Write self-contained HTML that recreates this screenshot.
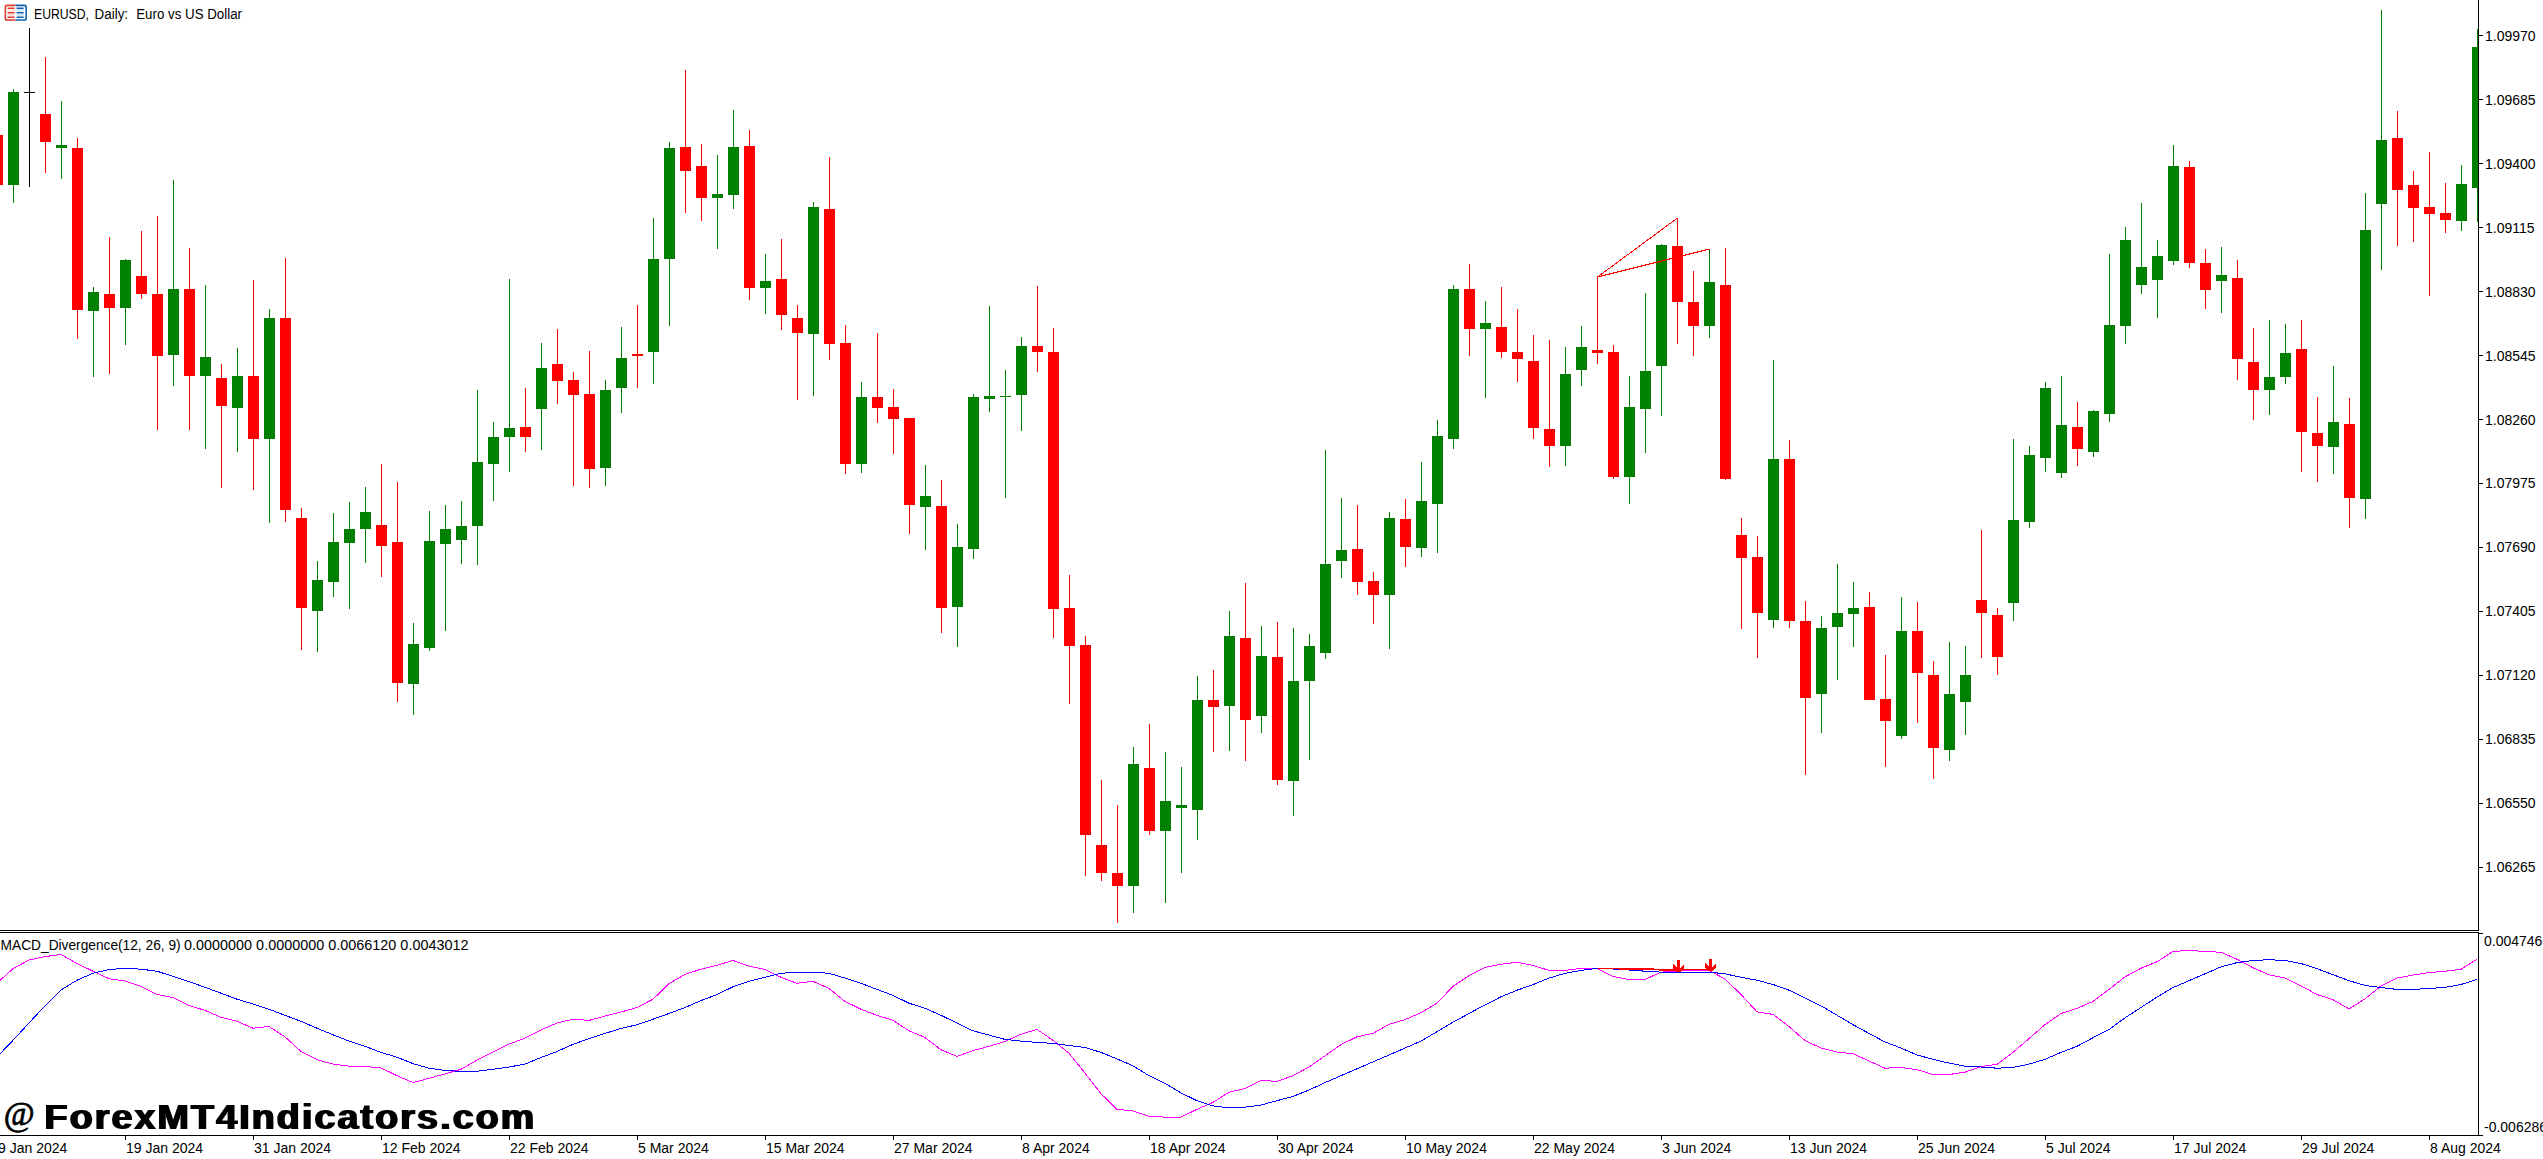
<!DOCTYPE html>
<html><head><meta charset="utf-8"><title>EURUSD Daily</title><style>
html,body{margin:0;padding:0;background:#fff;}
body{width:2543px;height:1159px;overflow:hidden;position:relative;}
svg{display:block;position:absolute;left:0;top:0;}
text{font-family:"Liberation Sans",sans-serif;}
.ax{font-size:14px;fill:#000;}
.wm{font-family:"Liberation Sans",sans-serif;font-weight:bold;font-size:35.5px;fill:#000;}
</style></head><body>
<svg width="2543" height="1159" viewBox="0 0 2543 1159">
<defs><clipPath id="cm"><rect x="0" y="0" width="2478" height="930"/></clipPath>
<clipPath id="cs"><rect x="0" y="933" width="2478" height="202"/></clipPath></defs>
<rect width="2543" height="1159" fill="#fff"/>
<g clip-path="url(#cm)" shape-rendering="crispEdges">
<rect x="-8" y="135" width="11" height="50" fill="#ff0000"/>
<rect x="13" y="89" width="1" height="114" fill="#008000"/>
<rect x="8" y="92" width="11" height="93" fill="#008000"/>
<rect x="29" y="28" width="1" height="159" fill="#000000"/>
<rect x="24" y="92" width="11" height="1" fill="#000000"/>
<rect x="45" y="57" width="1" height="116" fill="#ff0000"/>
<rect x="40" y="114" width="11" height="28" fill="#ff0000"/>
<rect x="61" y="101" width="1" height="78" fill="#008000"/>
<rect x="56" y="145" width="11" height="3" fill="#008000"/>
<rect x="77" y="138" width="1" height="201" fill="#ff0000"/>
<rect x="72" y="148" width="11" height="162" fill="#ff0000"/>
<rect x="93" y="287" width="1" height="90" fill="#008000"/>
<rect x="88" y="292" width="11" height="19" fill="#008000"/>
<rect x="109" y="237" width="1" height="137" fill="#ff0000"/>
<rect x="104" y="294" width="11" height="14" fill="#ff0000"/>
<rect x="125" y="259" width="1" height="86" fill="#008000"/>
<rect x="120" y="260" width="11" height="48" fill="#008000"/>
<rect x="141" y="231" width="1" height="68" fill="#ff0000"/>
<rect x="136" y="276" width="11" height="18" fill="#ff0000"/>
<rect x="157" y="216" width="1" height="214" fill="#ff0000"/>
<rect x="152" y="294" width="11" height="62" fill="#ff0000"/>
<rect x="173" y="180" width="1" height="206" fill="#008000"/>
<rect x="168" y="289" width="11" height="66" fill="#008000"/>
<rect x="189" y="248" width="1" height="182" fill="#ff0000"/>
<rect x="184" y="289" width="11" height="87" fill="#ff0000"/>
<rect x="205" y="285" width="1" height="164" fill="#008000"/>
<rect x="200" y="357" width="11" height="19" fill="#008000"/>
<rect x="221" y="364" width="1" height="124" fill="#ff0000"/>
<rect x="216" y="378" width="11" height="28" fill="#ff0000"/>
<rect x="237" y="348" width="1" height="104" fill="#008000"/>
<rect x="232" y="376" width="11" height="32" fill="#008000"/>
<rect x="253" y="280" width="1" height="210" fill="#ff0000"/>
<rect x="248" y="376" width="11" height="63" fill="#ff0000"/>
<rect x="269" y="309" width="1" height="214" fill="#008000"/>
<rect x="264" y="318" width="11" height="121" fill="#008000"/>
<rect x="285" y="258" width="1" height="264" fill="#ff0000"/>
<rect x="280" y="318" width="11" height="192" fill="#ff0000"/>
<rect x="301" y="508" width="1" height="142" fill="#ff0000"/>
<rect x="296" y="518" width="11" height="90" fill="#ff0000"/>
<rect x="317" y="561" width="1" height="91" fill="#008000"/>
<rect x="312" y="580" width="11" height="31" fill="#008000"/>
<rect x="333" y="513" width="1" height="84" fill="#008000"/>
<rect x="328" y="542" width="11" height="40" fill="#008000"/>
<rect x="349" y="502" width="1" height="107" fill="#008000"/>
<rect x="344" y="529" width="11" height="14" fill="#008000"/>
<rect x="365" y="487" width="1" height="76" fill="#008000"/>
<rect x="360" y="512" width="11" height="17" fill="#008000"/>
<rect x="381" y="464" width="1" height="113" fill="#ff0000"/>
<rect x="376" y="525" width="11" height="21" fill="#ff0000"/>
<rect x="397" y="482" width="1" height="220" fill="#ff0000"/>
<rect x="392" y="542" width="11" height="141" fill="#ff0000"/>
<rect x="413" y="623" width="1" height="92" fill="#008000"/>
<rect x="408" y="644" width="11" height="40" fill="#008000"/>
<rect x="429" y="511" width="1" height="140" fill="#008000"/>
<rect x="424" y="541" width="11" height="107" fill="#008000"/>
<rect x="445" y="505" width="1" height="126" fill="#008000"/>
<rect x="440" y="529" width="11" height="15" fill="#008000"/>
<rect x="461" y="501" width="1" height="63" fill="#008000"/>
<rect x="456" y="526" width="11" height="14" fill="#008000"/>
<rect x="477" y="390" width="1" height="175" fill="#008000"/>
<rect x="472" y="462" width="11" height="64" fill="#008000"/>
<rect x="493" y="422" width="1" height="79" fill="#008000"/>
<rect x="488" y="437" width="11" height="27" fill="#008000"/>
<rect x="509" y="279" width="1" height="193" fill="#008000"/>
<rect x="504" y="428" width="11" height="9" fill="#008000"/>
<rect x="525" y="388" width="1" height="64" fill="#ff0000"/>
<rect x="520" y="427" width="11" height="10" fill="#ff0000"/>
<rect x="541" y="343" width="1" height="107" fill="#008000"/>
<rect x="536" y="368" width="11" height="41" fill="#008000"/>
<rect x="557" y="329" width="1" height="75" fill="#ff0000"/>
<rect x="552" y="364" width="11" height="17" fill="#ff0000"/>
<rect x="573" y="372" width="1" height="114" fill="#ff0000"/>
<rect x="568" y="380" width="11" height="15" fill="#ff0000"/>
<rect x="589" y="351" width="1" height="137" fill="#ff0000"/>
<rect x="584" y="394" width="11" height="75" fill="#ff0000"/>
<rect x="605" y="380" width="1" height="106" fill="#008000"/>
<rect x="600" y="390" width="11" height="78" fill="#008000"/>
<rect x="621" y="327" width="1" height="86" fill="#008000"/>
<rect x="616" y="358" width="11" height="30" fill="#008000"/>
<rect x="637" y="305" width="1" height="83" fill="#ff0000"/>
<rect x="632" y="354" width="11" height="2" fill="#ff0000"/>
<rect x="653" y="218" width="1" height="166" fill="#008000"/>
<rect x="648" y="259" width="11" height="93" fill="#008000"/>
<rect x="669" y="142" width="1" height="184" fill="#008000"/>
<rect x="664" y="148" width="11" height="111" fill="#008000"/>
<rect x="685" y="70" width="1" height="143" fill="#ff0000"/>
<rect x="680" y="147" width="11" height="24" fill="#ff0000"/>
<rect x="701" y="144" width="1" height="77" fill="#ff0000"/>
<rect x="696" y="166" width="11" height="32" fill="#ff0000"/>
<rect x="717" y="155" width="1" height="94" fill="#008000"/>
<rect x="712" y="194" width="11" height="4" fill="#008000"/>
<rect x="733" y="110" width="1" height="99" fill="#008000"/>
<rect x="728" y="147" width="11" height="48" fill="#008000"/>
<rect x="749" y="130" width="1" height="170" fill="#ff0000"/>
<rect x="744" y="146" width="11" height="142" fill="#ff0000"/>
<rect x="765" y="254" width="1" height="60" fill="#008000"/>
<rect x="760" y="281" width="11" height="7" fill="#008000"/>
<rect x="781" y="239" width="1" height="91" fill="#ff0000"/>
<rect x="776" y="279" width="11" height="36" fill="#ff0000"/>
<rect x="797" y="305" width="1" height="95" fill="#ff0000"/>
<rect x="792" y="318" width="11" height="15" fill="#ff0000"/>
<rect x="813" y="202" width="1" height="194" fill="#008000"/>
<rect x="808" y="207" width="11" height="127" fill="#008000"/>
<rect x="829" y="157" width="1" height="203" fill="#ff0000"/>
<rect x="824" y="209" width="11" height="135" fill="#ff0000"/>
<rect x="845" y="325" width="1" height="149" fill="#ff0000"/>
<rect x="840" y="343" width="11" height="121" fill="#ff0000"/>
<rect x="861" y="382" width="1" height="91" fill="#008000"/>
<rect x="856" y="397" width="11" height="67" fill="#008000"/>
<rect x="877" y="333" width="1" height="90" fill="#ff0000"/>
<rect x="872" y="397" width="11" height="11" fill="#ff0000"/>
<rect x="893" y="389" width="1" height="65" fill="#ff0000"/>
<rect x="888" y="407" width="11" height="12" fill="#ff0000"/>
<rect x="909" y="418" width="1" height="116" fill="#ff0000"/>
<rect x="904" y="418" width="11" height="87" fill="#ff0000"/>
<rect x="925" y="465" width="1" height="85" fill="#008000"/>
<rect x="920" y="496" width="11" height="11" fill="#008000"/>
<rect x="941" y="480" width="1" height="153" fill="#ff0000"/>
<rect x="936" y="506" width="11" height="102" fill="#ff0000"/>
<rect x="957" y="524" width="1" height="123" fill="#008000"/>
<rect x="952" y="547" width="11" height="60" fill="#008000"/>
<rect x="973" y="394" width="1" height="165" fill="#008000"/>
<rect x="968" y="397" width="11" height="152" fill="#008000"/>
<rect x="989" y="306" width="1" height="106" fill="#008000"/>
<rect x="984" y="396" width="11" height="3" fill="#008000"/>
<rect x="1005" y="370" width="1" height="128" fill="#008000"/>
<rect x="1000" y="396" width="11" height="1" fill="#008000"/>
<rect x="1021" y="337" width="1" height="94" fill="#008000"/>
<rect x="1016" y="346" width="11" height="49" fill="#008000"/>
<rect x="1037" y="286" width="1" height="86" fill="#ff0000"/>
<rect x="1032" y="346" width="11" height="6" fill="#ff0000"/>
<rect x="1053" y="328" width="1" height="310" fill="#ff0000"/>
<rect x="1048" y="352" width="11" height="257" fill="#ff0000"/>
<rect x="1069" y="575" width="1" height="129" fill="#ff0000"/>
<rect x="1064" y="608" width="11" height="38" fill="#ff0000"/>
<rect x="1085" y="636" width="1" height="240" fill="#ff0000"/>
<rect x="1080" y="645" width="11" height="190" fill="#ff0000"/>
<rect x="1101" y="780" width="1" height="101" fill="#ff0000"/>
<rect x="1096" y="845" width="11" height="28" fill="#ff0000"/>
<rect x="1117" y="805" width="1" height="118" fill="#ff0000"/>
<rect x="1112" y="873" width="11" height="13" fill="#ff0000"/>
<rect x="1133" y="747" width="1" height="166" fill="#008000"/>
<rect x="1128" y="764" width="11" height="122" fill="#008000"/>
<rect x="1149" y="724" width="1" height="111" fill="#ff0000"/>
<rect x="1144" y="768" width="11" height="63" fill="#ff0000"/>
<rect x="1165" y="752" width="1" height="151" fill="#008000"/>
<rect x="1160" y="801" width="11" height="30" fill="#008000"/>
<rect x="1181" y="767" width="1" height="106" fill="#008000"/>
<rect x="1176" y="805" width="11" height="3" fill="#008000"/>
<rect x="1197" y="676" width="1" height="164" fill="#008000"/>
<rect x="1192" y="700" width="11" height="110" fill="#008000"/>
<rect x="1213" y="670" width="1" height="82" fill="#ff0000"/>
<rect x="1208" y="700" width="11" height="7" fill="#ff0000"/>
<rect x="1229" y="611" width="1" height="140" fill="#008000"/>
<rect x="1224" y="636" width="11" height="70" fill="#008000"/>
<rect x="1245" y="583" width="1" height="178" fill="#ff0000"/>
<rect x="1240" y="638" width="11" height="82" fill="#ff0000"/>
<rect x="1261" y="626" width="1" height="107" fill="#008000"/>
<rect x="1256" y="656" width="11" height="60" fill="#008000"/>
<rect x="1277" y="622" width="1" height="163" fill="#ff0000"/>
<rect x="1272" y="657" width="11" height="123" fill="#ff0000"/>
<rect x="1293" y="628" width="1" height="188" fill="#008000"/>
<rect x="1288" y="681" width="11" height="100" fill="#008000"/>
<rect x="1309" y="634" width="1" height="126" fill="#008000"/>
<rect x="1304" y="646" width="11" height="35" fill="#008000"/>
<rect x="1325" y="450" width="1" height="209" fill="#008000"/>
<rect x="1320" y="564" width="11" height="89" fill="#008000"/>
<rect x="1341" y="498" width="1" height="80" fill="#008000"/>
<rect x="1336" y="550" width="11" height="11" fill="#008000"/>
<rect x="1357" y="505" width="1" height="90" fill="#ff0000"/>
<rect x="1352" y="549" width="11" height="33" fill="#ff0000"/>
<rect x="1373" y="572" width="1" height="52" fill="#ff0000"/>
<rect x="1368" y="581" width="11" height="14" fill="#ff0000"/>
<rect x="1389" y="512" width="1" height="137" fill="#008000"/>
<rect x="1384" y="518" width="11" height="77" fill="#008000"/>
<rect x="1405" y="499" width="1" height="68" fill="#ff0000"/>
<rect x="1400" y="519" width="11" height="28" fill="#ff0000"/>
<rect x="1421" y="462" width="1" height="95" fill="#008000"/>
<rect x="1416" y="501" width="11" height="47" fill="#008000"/>
<rect x="1437" y="420" width="1" height="133" fill="#008000"/>
<rect x="1432" y="436" width="11" height="68" fill="#008000"/>
<rect x="1453" y="285" width="1" height="164" fill="#008000"/>
<rect x="1448" y="289" width="11" height="150" fill="#008000"/>
<rect x="1469" y="264" width="1" height="92" fill="#ff0000"/>
<rect x="1464" y="289" width="11" height="40" fill="#ff0000"/>
<rect x="1485" y="301" width="1" height="97" fill="#008000"/>
<rect x="1480" y="323" width="11" height="6" fill="#008000"/>
<rect x="1501" y="287" width="1" height="71" fill="#ff0000"/>
<rect x="1496" y="327" width="11" height="25" fill="#ff0000"/>
<rect x="1517" y="309" width="1" height="73" fill="#ff0000"/>
<rect x="1512" y="352" width="11" height="7" fill="#ff0000"/>
<rect x="1533" y="335" width="1" height="104" fill="#ff0000"/>
<rect x="1528" y="361" width="11" height="67" fill="#ff0000"/>
<rect x="1549" y="340" width="1" height="127" fill="#ff0000"/>
<rect x="1544" y="429" width="11" height="17" fill="#ff0000"/>
<rect x="1565" y="347" width="1" height="119" fill="#008000"/>
<rect x="1560" y="374" width="11" height="72" fill="#008000"/>
<rect x="1581" y="326" width="1" height="60" fill="#008000"/>
<rect x="1576" y="347" width="11" height="23" fill="#008000"/>
<rect x="1597" y="277" width="1" height="87" fill="#ff0000"/>
<rect x="1592" y="350" width="11" height="3" fill="#ff0000"/>
<rect x="1613" y="345" width="1" height="134" fill="#ff0000"/>
<rect x="1608" y="352" width="11" height="125" fill="#ff0000"/>
<rect x="1629" y="376" width="1" height="128" fill="#008000"/>
<rect x="1624" y="407" width="11" height="70" fill="#008000"/>
<rect x="1645" y="293" width="1" height="160" fill="#008000"/>
<rect x="1640" y="371" width="11" height="38" fill="#008000"/>
<rect x="1661" y="244" width="1" height="172" fill="#008000"/>
<rect x="1656" y="245" width="11" height="121" fill="#008000"/>
<rect x="1677" y="218" width="1" height="126" fill="#ff0000"/>
<rect x="1672" y="246" width="11" height="56" fill="#ff0000"/>
<rect x="1693" y="271" width="1" height="85" fill="#ff0000"/>
<rect x="1688" y="302" width="11" height="24" fill="#ff0000"/>
<rect x="1709" y="249" width="1" height="89" fill="#008000"/>
<rect x="1704" y="282" width="11" height="44" fill="#008000"/>
<rect x="1725" y="248" width="1" height="232" fill="#ff0000"/>
<rect x="1720" y="285" width="11" height="194" fill="#ff0000"/>
<rect x="1741" y="518" width="1" height="111" fill="#ff0000"/>
<rect x="1736" y="535" width="11" height="23" fill="#ff0000"/>
<rect x="1757" y="536" width="1" height="122" fill="#ff0000"/>
<rect x="1752" y="557" width="11" height="56" fill="#ff0000"/>
<rect x="1773" y="360" width="1" height="268" fill="#008000"/>
<rect x="1768" y="459" width="11" height="161" fill="#008000"/>
<rect x="1789" y="440" width="1" height="188" fill="#ff0000"/>
<rect x="1784" y="459" width="11" height="162" fill="#ff0000"/>
<rect x="1805" y="601" width="1" height="174" fill="#ff0000"/>
<rect x="1800" y="621" width="11" height="77" fill="#ff0000"/>
<rect x="1821" y="616" width="1" height="117" fill="#008000"/>
<rect x="1816" y="628" width="11" height="66" fill="#008000"/>
<rect x="1837" y="564" width="1" height="116" fill="#008000"/>
<rect x="1832" y="613" width="11" height="14" fill="#008000"/>
<rect x="1853" y="582" width="1" height="65" fill="#008000"/>
<rect x="1848" y="608" width="11" height="6" fill="#008000"/>
<rect x="1869" y="592" width="1" height="108" fill="#ff0000"/>
<rect x="1864" y="607" width="11" height="93" fill="#ff0000"/>
<rect x="1885" y="655" width="1" height="112" fill="#ff0000"/>
<rect x="1880" y="699" width="11" height="22" fill="#ff0000"/>
<rect x="1901" y="597" width="1" height="142" fill="#008000"/>
<rect x="1896" y="631" width="11" height="105" fill="#008000"/>
<rect x="1917" y="602" width="1" height="121" fill="#ff0000"/>
<rect x="1912" y="631" width="11" height="42" fill="#ff0000"/>
<rect x="1933" y="661" width="1" height="118" fill="#ff0000"/>
<rect x="1928" y="675" width="11" height="73" fill="#ff0000"/>
<rect x="1949" y="642" width="1" height="119" fill="#008000"/>
<rect x="1944" y="694" width="11" height="56" fill="#008000"/>
<rect x="1965" y="646" width="1" height="89" fill="#008000"/>
<rect x="1960" y="675" width="11" height="27" fill="#008000"/>
<rect x="1981" y="530" width="1" height="128" fill="#ff0000"/>
<rect x="1976" y="600" width="11" height="13" fill="#ff0000"/>
<rect x="1997" y="608" width="1" height="67" fill="#ff0000"/>
<rect x="1992" y="615" width="11" height="42" fill="#ff0000"/>
<rect x="2013" y="439" width="1" height="182" fill="#008000"/>
<rect x="2008" y="520" width="11" height="83" fill="#008000"/>
<rect x="2029" y="446" width="1" height="82" fill="#008000"/>
<rect x="2024" y="455" width="11" height="67" fill="#008000"/>
<rect x="2045" y="382" width="1" height="90" fill="#008000"/>
<rect x="2040" y="388" width="11" height="70" fill="#008000"/>
<rect x="2061" y="376" width="1" height="102" fill="#008000"/>
<rect x="2056" y="425" width="11" height="48" fill="#008000"/>
<rect x="2077" y="402" width="1" height="64" fill="#ff0000"/>
<rect x="2072" y="427" width="11" height="22" fill="#ff0000"/>
<rect x="2093" y="410" width="1" height="47" fill="#008000"/>
<rect x="2088" y="411" width="11" height="41" fill="#008000"/>
<rect x="2109" y="254" width="1" height="168" fill="#008000"/>
<rect x="2104" y="325" width="11" height="89" fill="#008000"/>
<rect x="2125" y="227" width="1" height="117" fill="#008000"/>
<rect x="2120" y="240" width="11" height="86" fill="#008000"/>
<rect x="2141" y="203" width="1" height="91" fill="#008000"/>
<rect x="2136" y="267" width="11" height="18" fill="#008000"/>
<rect x="2157" y="240" width="1" height="78" fill="#008000"/>
<rect x="2152" y="256" width="11" height="24" fill="#008000"/>
<rect x="2173" y="145" width="1" height="120" fill="#008000"/>
<rect x="2168" y="166" width="11" height="95" fill="#008000"/>
<rect x="2189" y="161" width="1" height="107" fill="#ff0000"/>
<rect x="2184" y="167" width="11" height="96" fill="#ff0000"/>
<rect x="2205" y="249" width="1" height="60" fill="#ff0000"/>
<rect x="2200" y="263" width="11" height="27" fill="#ff0000"/>
<rect x="2221" y="247" width="1" height="66" fill="#008000"/>
<rect x="2216" y="275" width="11" height="6" fill="#008000"/>
<rect x="2237" y="260" width="1" height="120" fill="#ff0000"/>
<rect x="2232" y="278" width="11" height="81" fill="#ff0000"/>
<rect x="2253" y="328" width="1" height="92" fill="#ff0000"/>
<rect x="2248" y="362" width="11" height="28" fill="#ff0000"/>
<rect x="2269" y="320" width="1" height="95" fill="#008000"/>
<rect x="2264" y="377" width="11" height="13" fill="#008000"/>
<rect x="2285" y="324" width="1" height="60" fill="#008000"/>
<rect x="2280" y="353" width="11" height="24" fill="#008000"/>
<rect x="2301" y="320" width="1" height="152" fill="#ff0000"/>
<rect x="2296" y="349" width="11" height="83" fill="#ff0000"/>
<rect x="2317" y="397" width="1" height="85" fill="#ff0000"/>
<rect x="2312" y="433" width="11" height="13" fill="#ff0000"/>
<rect x="2333" y="366" width="1" height="108" fill="#008000"/>
<rect x="2328" y="422" width="11" height="25" fill="#008000"/>
<rect x="2349" y="398" width="1" height="130" fill="#ff0000"/>
<rect x="2344" y="424" width="11" height="74" fill="#ff0000"/>
<rect x="2365" y="193" width="1" height="326" fill="#008000"/>
<rect x="2360" y="230" width="11" height="269" fill="#008000"/>
<rect x="2381" y="10" width="1" height="260" fill="#008000"/>
<rect x="2376" y="140" width="11" height="64" fill="#008000"/>
<rect x="2397" y="111" width="1" height="135" fill="#ff0000"/>
<rect x="2392" y="138" width="11" height="52" fill="#ff0000"/>
<rect x="2413" y="171" width="1" height="71" fill="#ff0000"/>
<rect x="2408" y="185" width="11" height="23" fill="#ff0000"/>
<rect x="2429" y="152" width="1" height="144" fill="#ff0000"/>
<rect x="2424" y="207" width="11" height="7" fill="#ff0000"/>
<rect x="2445" y="183" width="1" height="50" fill="#ff0000"/>
<rect x="2440" y="213" width="11" height="7" fill="#ff0000"/>
<rect x="2461" y="165" width="1" height="66" fill="#008000"/>
<rect x="2456" y="184" width="11" height="37" fill="#008000"/>
<rect x="2477" y="29" width="1" height="193" fill="#008000"/>
<rect x="2472" y="47" width="11" height="141" fill="#008000"/>
</g>
<g stroke="#ff0000" stroke-width="1" fill="none" shape-rendering="crispEdges">
<line x1="1597.5" y1="277" x2="1677.5" y2="218"/>
<line x1="1597.5" y1="277" x2="1709.5" y2="249"/>
</g>
<g shape-rendering="crispEdges" fill="#000">
<rect x="0" y="930" width="2479" height="1"/>
<rect x="2478" y="0" width="1" height="931"/>
<rect x="0" y="932" width="2479" height="1"/>
<rect x="2478" y="932" width="1" height="204"/>
<rect x="0" y="1135" width="2479" height="1"/>
<rect x="2479" y="35" width="4" height="1"/>
<rect x="2479" y="99" width="4" height="1"/>
<rect x="2479" y="163" width="4" height="1"/>
<rect x="2479" y="227" width="4" height="1"/>
<rect x="2479" y="291" width="4" height="1"/>
<rect x="2479" y="355" width="4" height="1"/>
<rect x="2479" y="419" width="4" height="1"/>
<rect x="2479" y="483" width="4" height="1"/>
<rect x="2479" y="547" width="4" height="1"/>
<rect x="2479" y="611" width="4" height="1"/>
<rect x="2479" y="675" width="4" height="1"/>
<rect x="2479" y="739" width="4" height="1"/>
<rect x="2479" y="803" width="4" height="1"/>
<rect x="2479" y="867" width="4" height="1"/>
<rect x="2479" y="933" width="4" height="1"/>
<rect x="2479" y="1135" width="4" height="1"/>
<rect x="-3" y="1136" width="1" height="4"/>
<rect x="125" y="1136" width="1" height="4"/>
<rect x="253" y="1136" width="1" height="4"/>
<rect x="381" y="1136" width="1" height="4"/>
<rect x="509" y="1136" width="1" height="4"/>
<rect x="637" y="1136" width="1" height="4"/>
<rect x="765" y="1136" width="1" height="4"/>
<rect x="893" y="1136" width="1" height="4"/>
<rect x="1021" y="1136" width="1" height="4"/>
<rect x="1149" y="1136" width="1" height="4"/>
<rect x="1277" y="1136" width="1" height="4"/>
<rect x="1405" y="1136" width="1" height="4"/>
<rect x="1533" y="1136" width="1" height="4"/>
<rect x="1661" y="1136" width="1" height="4"/>
<rect x="1789" y="1136" width="1" height="4"/>
<rect x="1917" y="1136" width="1" height="4"/>
<rect x="2045" y="1136" width="1" height="4"/>
<rect x="2173" y="1136" width="1" height="4"/>
<rect x="2301" y="1136" width="1" height="4"/>
<rect x="2429" y="1136" width="1" height="4"/>
</g>
<g class="ax">
<text x="2485" y="40.8">1.09970</text>
<text x="2485" y="104.8">1.09685</text>
<text x="2485" y="168.7">1.09400</text>
<text x="2485" y="232.7">1.09115</text>
<text x="2485" y="296.6">1.08830</text>
<text x="2485" y="360.5">1.08545</text>
<text x="2485" y="424.5">1.08260</text>
<text x="2485" y="488.4">1.07975</text>
<text x="2485" y="552.4">1.07690</text>
<text x="2485" y="616.4">1.07405</text>
<text x="2485" y="680.3">1.07120</text>
<text x="2485" y="744.2">1.06835</text>
<text x="2485" y="808.2">1.06550</text>
<text x="2485" y="872.1">1.06265</text>
<text x="2484" y="946">0.004746</text>
<text x="2484" y="1131.5">-0.006286</text>
<text x="-2" y="1153">9 Jan 2024</text>
<text x="126" y="1153">19 Jan 2024</text>
<text x="254" y="1153">31 Jan 2024</text>
<text x="382" y="1153">12 Feb 2024</text>
<text x="510" y="1153">22 Feb 2024</text>
<text x="638" y="1153">5 Mar 2024</text>
<text x="766" y="1153">15 Mar 2024</text>
<text x="894" y="1153">27 Mar 2024</text>
<text x="1022" y="1153">8 Apr 2024</text>
<text x="1150" y="1153">18 Apr 2024</text>
<text x="1278" y="1153">30 Apr 2024</text>
<text x="1406" y="1153">10 May 2024</text>
<text x="1534" y="1153">22 May 2024</text>
<text x="1662" y="1153">3 Jun 2024</text>
<text x="1790" y="1153">13 Jun 2024</text>
<text x="1918" y="1153">25 Jun 2024</text>
<text x="2046" y="1153">5 Jul 2024</text>
<text x="2174" y="1153">17 Jul 2024</text>
<text x="2302" y="1153">29 Jul 2024</text>
<text x="2430" y="1153">8 Aug 2024</text>
<text x="34" y="18.9" textLength="55" lengthAdjust="spacingAndGlyphs">EURUSD,</text>
<text x="94.6" y="18.9" textLength="33.5" lengthAdjust="spacingAndGlyphs">Daily:</text>
<text x="136.2" y="18.9" textLength="105.8" lengthAdjust="spacingAndGlyphs">Euro vs US Dollar</text>
<text x="0.6" y="949.7" textLength="180" lengthAdjust="spacingAndGlyphs">MACD_Divergence(12, 26, 9)</text>
<text x="184" y="949.7" textLength="284.5" lengthAdjust="spacingAndGlyphs">0.0000000 0.0000000 0.0066120 0.0043012</text>
</g>
<defs><clipPath id="il"><rect x="0" y="0" width="15.6" height="30"/></clipPath><clipPath id="ir"><rect x="15.6" y="0" width="20" height="30"/></clipPath></defs>
<g>
<rect x="5.35" y="5.35" width="20.8" height="14.6" rx="1.8" fill="#fff" stroke="#dc3a2f" stroke-width="1.6" clip-path="url(#il)"/>
<rect x="5.35" y="5.35" width="20.8" height="14.6" rx="1.8" fill="#fff" stroke="#0d60ad" stroke-width="1.6" clip-path="url(#ir)"/>
<rect x="7.4" y="9.3" width="7.4" height="2.1" fill="#fde2da"/>
<rect x="7.4" y="14" width="7.4" height="2.1" fill="#fde2da"/>
<rect x="16.4" y="9.3" width="7.5" height="2.1" fill="#cce8fb"/>
<rect x="16.4" y="14" width="7.5" height="2.1" fill="#cce8fb"/>
<rect x="7.4" y="7.55" width="7.4" height="1.45" rx="0.7" fill="#dc3a2f"/>
<rect x="16.4" y="7.55" width="7.5" height="1.45" rx="0.7" fill="#0d60ad"/>
<rect x="7.4" y="12.05" width="7.4" height="1.45" rx="0.7" fill="#dc3a2f"/>
<rect x="16.4" y="12.05" width="7.5" height="1.45" rx="0.7" fill="#0d60ad"/>
<rect x="7.4" y="16.50" width="7.4" height="1.45" rx="0.7" fill="#dc3a2f"/>
<rect x="16.4" y="16.50" width="7.5" height="1.45" rx="0.7" fill="#0d60ad"/>
</g>
<g clip-path="url(#cs)" fill="none" stroke-width="1" shape-rendering="crispEdges">
<polyline points="-3,983.0 13,968.7 29,960.0 45,956.6 61,954.5 77,963.5 93,971.2 109,978.7 125,981.0 141,986.4 157,994.5 173,997.5 189,1005.4 205,1010.4 221,1017.3 237,1021.3 253,1028.2 269,1026.5 285,1036.8 301,1051.5 317,1059.7 333,1064.1 349,1066.2 365,1066.5 381,1067.9 397,1075.7 413,1082.6 429,1078.3 445,1073.9 461,1069.3 477,1060.1 493,1052.0 509,1044.1 525,1038.2 541,1029.9 557,1023.0 573,1019.2 589,1020.4 605,1016.1 621,1012.0 637,1007.5 653,999.2 669,983.7 685,974.4 701,969.2 717,965.2 733,960.5 749,966.1 765,969.5 781,977.3 797,983.3 813,981.3 829,988.5 845,1001.4 861,1009.2 877,1015.3 893,1020.4 909,1030.8 925,1037.5 941,1049.8 957,1056.3 973,1050.6 989,1046.3 1005,1041.5 1021,1034.2 1037,1029.4 1053,1040.3 1069,1053.2 1085,1073.1 1101,1093.8 1117,1109.3 1133,1111.0 1149,1116.2 1165,1117.1 1181,1117.1 1197,1109.3 1213,1102.4 1229,1092.2 1245,1088.6 1261,1080.3 1277,1081.4 1293,1075.7 1309,1067.0 1325,1055.8 1341,1044.6 1357,1036.8 1373,1033.4 1389,1024.4 1405,1019.6 1421,1012.7 1437,1003.2 1453,986.4 1469,975.6 1485,967.4 1501,964.3 1517,962.3 1533,965.4 1549,970.4 1565,970.4 1581,968.3 1597,968.3 1613,976.4 1629,979.5 1645,979.5 1661,972.1 1677,971.2 1693,970.4 1709,970.4 1725,979.0 1741,994.5 1757,1011.8 1773,1014.4 1789,1026.5 1805,1040.6 1821,1048.0 1837,1052.0 1853,1053.7 1869,1061.0 1885,1068.2 1901,1067.5 1917,1069.6 1933,1074.5 1949,1074.5 1965,1072.2 1981,1066.5 1997,1064.4 2013,1052.4 2029,1038.6 2045,1024.7 2061,1013.5 2077,1008.4 2093,1001.4 2109,989.4 2125,976.9 2141,968.2 2157,961.8 2173,951.4 2189,950.5 2205,951.4 2221,952.3 2237,959.2 2253,967.8 2269,974.7 2285,978.1 2301,985.9 2317,994.5 2333,999.7 2349,1008.9 2365,998.9 2381,985.9 2397,978.1 2413,975.0 2429,972.6 2445,971.2 2461,969.3 2477,959.2" stroke="#ff00ff"/>
<polyline points="-3,1057.0 13,1040.3 29,1023.0 45,1005.8 61,989.9 77,980.2 93,973.3 109,969.5 125,968.3 141,969.2 157,971.2 173,976.4 189,981.6 205,987.3 221,993.2 237,999.2 253,1004.0 269,1009.2 285,1015.3 301,1021.3 317,1028.2 333,1034.8 349,1041.1 365,1046.3 381,1052.4 397,1057.2 413,1063.6 429,1068.2 445,1070.5 461,1071.3 477,1071.3 493,1069.3 509,1067.0 525,1064.1 541,1057.5 557,1051.5 573,1044.3 589,1038.6 605,1033.4 621,1028.5 637,1024.7 653,1019.2 669,1013.5 685,1007.5 701,1000.6 717,994.5 733,986.8 749,981.3 765,977.3 781,973.3 797,972.1 813,972.1 829,973.3 845,978.1 861,983.3 877,989.4 893,995.4 909,1003.2 925,1008.3 941,1015.3 957,1023.0 973,1030.8 989,1035.1 1005,1039.4 1021,1041.1 1037,1042.4 1053,1043.4 1069,1045.5 1085,1047.5 1101,1052.4 1117,1058.9 1133,1065.8 1149,1075.7 1165,1083.4 1181,1092.9 1197,1100.7 1213,1105.9 1229,1107.8 1245,1107.2 1261,1105.0 1277,1100.7 1293,1096.4 1309,1090.0 1325,1082.6 1341,1075.7 1357,1068.8 1373,1061.9 1389,1055.0 1405,1048.0 1421,1041.1 1437,1031.7 1453,1022.2 1469,1013.5 1485,1004.9 1501,996.8 1517,990.2 1533,984.6 1549,978.1 1565,973.3 1581,970.4 1597,968.3 1613,969.0 1629,970.0 1645,971.2 1661,972.1 1677,972.1 1693,972.1 1709,972.1 1725,973.8 1741,977.3 1757,980.2 1773,984.5 1789,990.2 1805,998.0 1821,1005.8 1837,1015.2 1853,1024.7 1869,1033.4 1885,1042.0 1901,1048.0 1917,1055.0 1933,1059.3 1949,1063.1 1965,1066.2 1981,1067.0 1997,1068.2 2013,1067.5 2029,1064.1 2045,1059.3 2061,1052.4 2077,1046.3 2093,1037.7 2109,1029.6 2125,1017.8 2141,1007.5 2157,997.1 2173,987.6 2189,980.7 2205,973.8 2221,966.9 2237,962.6 2253,960.5 2269,959.7 2285,960.5 2301,963.5 2317,968.7 2333,974.7 2349,980.7 2365,985.4 2381,987.6 2397,989.4 2413,989.4 2429,988.5 2445,987.4 2461,984.5 2477,979.4" stroke="#0000ff"/>
<line x1="1598" y1="968.5" x2="1678" y2="970.5" stroke="#ff0000"/>
<line x1="1598" y1="968.5" x2="1710" y2="969.5" stroke="#ff0000"/>
</g>
<g fill="#ff0000" shape-rendering="crispEdges"><rect x="1677" y="960" width="3" height="12"/>
<polygon points="1673.0,964.0 1677.0,968.0 1680.0,968.0 1684.0,964.0 1684.0,968.5 1680.5,972.0 1676.5,972.0 1673.0,968.5"/></g>
<g fill="#ff0000" shape-rendering="crispEdges"><rect x="1709" y="959" width="3" height="12"/>
<polygon points="1705.0,963.0 1709.0,967.0 1712.0,967.0 1716.0,963.0 1716.0,967.5 1712.5,971.0 1708.5,971.0 1705.0,967.5"/></g>
<text x="3.8" y="1125.1" style="font-family:'Liberation Serif',serif;font-size:33.5px" fill="#000" stroke="#000" stroke-width="0.8">@</text>
<defs><filter id="hd" x="-5%" y="-20%" width="110%" height="140%"><feMorphology operator="dilate" radius="1.0 0.35"/></filter></defs>
<text transform="translate(44.6,1128.6) scale(1.06,1)" x="0" y="0" class="wm" textLength="462" lengthAdjust="spacing" filter="url(#hd)">ForexMT4Indicators.com</text>
</svg></body></html>
